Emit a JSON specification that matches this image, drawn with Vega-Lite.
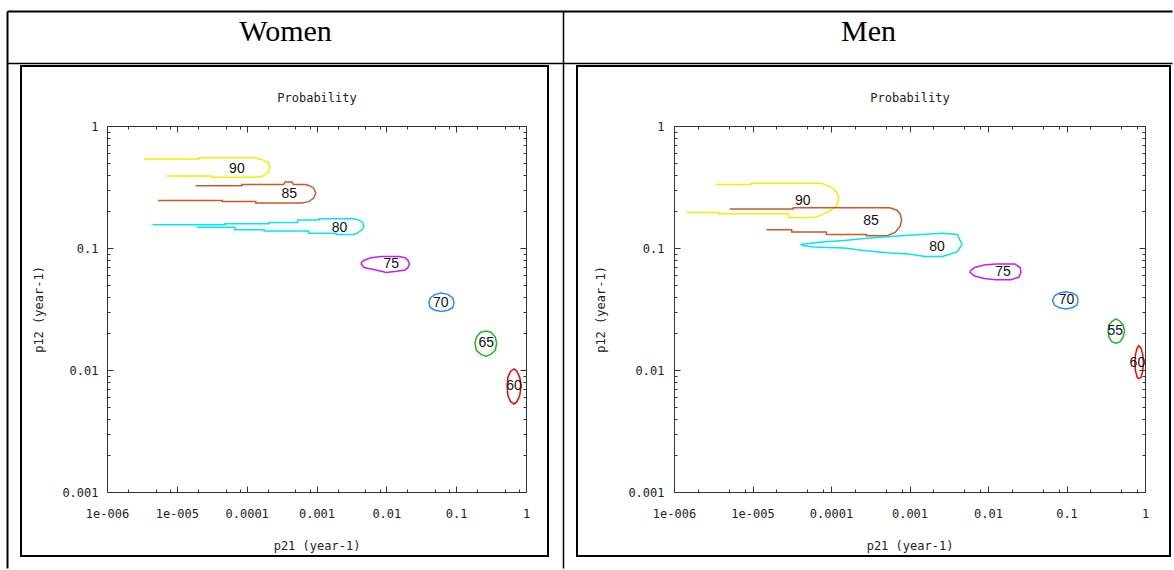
{
  "$schema": "https://vega.github.io/schema/vega-lite/v6.json",
  "background": "white",
  "width": 1166,
  "height": 558,
  "padding": {"left": 7, "top": 11, "right": 0, "bottom": 0},
  "config": {
    "view": {"stroke": null},
    "axis": {"domainColor": "#333333", "domainWidth": 1, "tickColor": "#333333", "tickWidth": 1, "grid": false, "labelFont": "DejaVu Sans Mono", "labelFontSize": 12, "labelColor": "#222222", "titleFont": "DejaVu Sans Mono", "titleFontSize": 12, "titleFontWeight": "normal", "titleColor": "#222222", "labelFlush": false, "labelOverlap": false, "labelBound": false}
  },
  "datasets": {
    "women": [
      {"age":"90","i":1,"p21":3.39e-6,"p12":0.537},
      {"age":"90","i":2,"p21":2.09e-5,"p12":0.537},
      {"age":"90","i":3,"p21":2.09e-5,"p12":0.55},
      {"age":"90","i":4,"p21":1.35e-4,"p12":0.55},
      {"age":"90","i":5,"p21":1.7e-4,"p12":0.525},
      {"age":"90","i":6,"p21":2.04e-4,"p12":0.501},
      {"age":"90","i":7,"p21":2.14e-4,"p12":0.457},
      {"age":"90","i":8,"p21":2.04e-4,"p12":0.417},
      {"age":"90","i":9,"p21":1.7e-4,"p12":0.389},
      {"age":"90","i":10,"p21":1.35e-4,"p12":0.38},
      {"age":"90","i":11,"p21":3.16e-5,"p12":0.38},
      {"age":"90","i":12,"p21":3.16e-5,"p12":0.389},
      {"age":"90","i":13,"p21":7.08e-6,"p12":0.389},
      {"age":"85","i":1,"p21":1.86e-5,"p12":0.324},
      {"age":"85","i":2,"p21":8.51e-5,"p12":0.324},
      {"age":"85","i":3,"p21":8.51e-5,"p12":0.331},
      {"age":"85","i":4,"p21":3.39e-4,"p12":0.331},
      {"age":"85","i":5,"p21":3.55e-4,"p12":0.347},
      {"age":"85","i":6,"p21":4.47e-4,"p12":0.347},
      {"age":"85","i":7,"p21":4.68e-4,"p12":0.331},
      {"age":"85","i":8,"p21":6.92e-4,"p12":0.331},
      {"age":"85","i":9,"p21":7.94e-4,"p12":0.324},
      {"age":"85","i":10,"p21":9.12e-4,"p12":0.309},
      {"age":"85","i":11,"p21":9.77e-4,"p12":0.282},
      {"age":"85","i":12,"p21":9.12e-4,"p12":0.257},
      {"age":"85","i":13,"p21":7.76e-4,"p12":0.24},
      {"age":"85","i":14,"p21":6.17e-4,"p12":0.234},
      {"age":"85","i":15,"p21":1.35e-4,"p12":0.234},
      {"age":"85","i":16,"p21":1.35e-4,"p12":0.24},
      {"age":"85","i":17,"p21":4.47e-5,"p12":0.24},
      {"age":"85","i":18,"p21":4.47e-5,"p12":0.245},
      {"age":"85","i":19,"p21":5.37e-6,"p12":0.245},
      {"age":"80","i":1,"p21":4.47e-6,"p12":0.155},
      {"age":"80","i":2,"p21":4.9e-5,"p12":0.155},
      {"age":"80","i":3,"p21":4.9e-5,"p12":0.158},
      {"age":"80","i":4,"p21":2.09e-4,"p12":0.158},
      {"age":"80","i":5,"p21":2.09e-4,"p12":0.162},
      {"age":"80","i":6,"p21":5.37e-4,"p12":0.162},
      {"age":"80","i":7,"p21":5.37e-4,"p12":0.17},
      {"age":"80","i":8,"p21":1.1e-3,"p12":0.17},
      {"age":"80","i":9,"p21":1.1e-3,"p12":0.174},
      {"age":"80","i":10,"p21":3.39e-3,"p12":0.174},
      {"age":"80","i":11,"p21":3.98e-3,"p12":0.17},
      {"age":"80","i":12,"p21":4.57e-3,"p12":0.162},
      {"age":"80","i":13,"p21":4.79e-3,"p12":0.151},
      {"age":"80","i":14,"p21":4.47e-3,"p12":0.141},
      {"age":"80","i":15,"p21":3.8e-3,"p12":0.132},
      {"age":"80","i":16,"p21":3.39e-3,"p12":0.129},
      {"age":"80","i":17,"p21":1.91e-3,"p12":0.129},
      {"age":"80","i":18,"p21":1.91e-3,"p12":0.132},
      {"age":"80","i":19,"p21":7.76e-4,"p12":0.132},
      {"age":"80","i":20,"p21":7.76e-4,"p12":0.138},
      {"age":"80","i":21,"p21":1.78e-4,"p12":0.138},
      {"age":"80","i":22,"p21":1.78e-4,"p12":0.141},
      {"age":"80","i":23,"p21":6.76e-5,"p12":0.141},
      {"age":"80","i":24,"p21":6.76e-5,"p12":0.148},
      {"age":"80","i":25,"p21":1.91e-5,"p12":0.148},
      {"age":"75","i":1,"p21":4.37e-3,"p12":0.0759},
      {"age":"75","i":2,"p21":4.79e-3,"p12":0.0794},
      {"age":"75","i":3,"p21":6.03e-3,"p12":0.0832},
      {"age":"75","i":4,"p21":8.51e-3,"p12":0.0851},
      {"age":"75","i":5,"p21":1.51e-2,"p12":0.0851},
      {"age":"75","i":6,"p21":1.86e-2,"p12":0.0832},
      {"age":"75","i":7,"p21":2.04e-2,"p12":0.0794},
      {"age":"75","i":8,"p21":2.14e-2,"p12":0.0741},
      {"age":"75","i":9,"p21":2.04e-2,"p12":0.0692},
      {"age":"75","i":10,"p21":1.86e-2,"p12":0.0661},
      {"age":"75","i":11,"p21":1.41e-2,"p12":0.0646},
      {"age":"75","i":12,"p21":1.0e-2,"p12":0.0631},
      {"age":"75","i":13,"p21":7.08e-3,"p12":0.0661},
      {"age":"75","i":14,"p21":4.79e-3,"p12":0.0692},
      {"age":"75","i":15,"p21":4.37e-3,"p12":0.0741},
      {"age":"75","i":16,"p21":4.37e-3,"p12":0.0759},
      {"age":"70","i":1,"p21":0.0933,"p12":0.0355},
      {"age":"70","i":2,"p21":0.0891,"p12":0.0389},
      {"age":"70","i":3,"p21":0.0759,"p12":0.0417},
      {"age":"70","i":4,"p21":0.0617,"p12":0.0427},
      {"age":"70","i":5,"p21":0.0501,"p12":0.0417},
      {"age":"70","i":6,"p21":0.0427,"p12":0.0389},
      {"age":"70","i":7,"p21":0.0407,"p12":0.0355},
      {"age":"70","i":8,"p21":0.0427,"p12":0.0324},
      {"age":"70","i":9,"p21":0.0501,"p12":0.0309},
      {"age":"70","i":10,"p21":0.0617,"p12":0.0302},
      {"age":"70","i":11,"p21":0.0759,"p12":0.0309},
      {"age":"70","i":12,"p21":0.0891,"p12":0.0324},
      {"age":"70","i":13,"p21":0.0933,"p12":0.0355},
      {"age":"65","i":1,"p21":0.38,"p12":0.0166},
      {"age":"65","i":2,"p21":0.363,"p12":0.0186},
      {"age":"65","i":3,"p21":0.316,"p12":0.0204},
      {"age":"65","i":4,"p21":0.269,"p12":0.0209},
      {"age":"65","i":5,"p21":0.224,"p12":0.0204},
      {"age":"65","i":6,"p21":0.195,"p12":0.0186},
      {"age":"65","i":7,"p21":0.186,"p12":0.0166},
      {"age":"65","i":8,"p21":0.195,"p12":0.0145},
      {"age":"65","i":9,"p21":0.224,"p12":0.0135},
      {"age":"65","i":10,"p21":0.269,"p12":0.0129},
      {"age":"65","i":11,"p21":0.316,"p12":0.0135},
      {"age":"65","i":12,"p21":0.363,"p12":0.0145},
      {"age":"65","i":13,"p21":0.38,"p12":0.0166},
      {"age":"60","i":1,"p21":0.851,"p12":0.00741},
      {"age":"60","i":2,"p21":0.813,"p12":0.00871},
      {"age":"60","i":3,"p21":0.741,"p12":0.00977},
      {"age":"60","i":4,"p21":0.676,"p12":0.0102},
      {"age":"60","i":5,"p21":0.603,"p12":0.00977},
      {"age":"60","i":6,"p21":0.55,"p12":0.00871},
      {"age":"60","i":7,"p21":0.537,"p12":0.00741},
      {"age":"60","i":8,"p21":0.55,"p12":0.00617},
      {"age":"60","i":9,"p21":0.603,"p12":0.0055},
      {"age":"60","i":10,"p21":0.676,"p12":0.00525},
      {"age":"60","i":11,"p21":0.741,"p12":0.0055},
      {"age":"60","i":12,"p21":0.813,"p12":0.00617},
      {"age":"60","i":13,"p21":0.851,"p12":0.00741}
    ],
    "womenLabels": [
      {"label":"90","p21":7.24e-5,"p12":0.447},
      {"label":"85","p21":4.07e-4,"p12":0.275},
      {"label":"80","p21":2.14e-3,"p12":0.145},
      {"label":"75","p21":1.175e-2,"p12":0.0741},
      {"label":"70","p21":0.06,"p12":0.0355},
      {"label":"65","p21":0.269,"p12":0.0166},
      {"label":"60","p21":0.672,"p12":0.00741}
    ],
    "men": [
      {"age":"90","i":1,"p21":3.47e-6,"p12":0.331},
      {"age":"90","i":2,"p21":9.55e-6,"p12":0.331},
      {"age":"90","i":3,"p21":9.55e-6,"p12":0.339},
      {"age":"90","i":4,"p21":7.59e-5,"p12":0.339},
      {"age":"90","i":5,"p21":1.0e-4,"p12":0.316},
      {"age":"90","i":6,"p21":1.18e-4,"p12":0.288},
      {"age":"90","i":7,"p21":1.26e-4,"p12":0.257},
      {"age":"90","i":8,"p21":1.18e-4,"p12":0.224},
      {"age":"90","i":9,"p21":1.0e-4,"p12":0.204},
      {"age":"90","i":10,"p21":7.59e-5,"p12":0.186},
      {"age":"90","i":11,"p21":6.0e-5,"p12":0.178},
      {"age":"90","i":12,"p21":2.88e-5,"p12":0.178},
      {"age":"90","i":13,"p21":2.88e-5,"p12":0.191},
      {"age":"90","i":14,"p21":3.72e-6,"p12":0.191},
      {"age":"90","i":15,"p21":3.72e-6,"p12":0.195},
      {"age":"90","i":16,"p21":1.45e-6,"p12":0.195},
      {"age":"85","i":1,"p21":5.13e-6,"p12":0.209},
      {"age":"85","i":2,"p21":3.31e-5,"p12":0.209},
      {"age":"85","i":3,"p21":3.31e-5,"p12":0.214},
      {"age":"85","i":4,"p21":5.62e-4,"p12":0.214},
      {"age":"85","i":5,"p21":6.92e-4,"p12":0.204},
      {"age":"85","i":6,"p21":7.59e-4,"p12":0.191},
      {"age":"85","i":7,"p21":7.94e-4,"p12":0.17},
      {"age":"85","i":8,"p21":7.59e-4,"p12":0.151},
      {"age":"85","i":9,"p21":6.61e-4,"p12":0.135},
      {"age":"85","i":10,"p21":5.25e-4,"p12":0.126},
      {"age":"85","i":11,"p21":2.82e-4,"p12":0.126},
      {"age":"85","i":12,"p21":2.82e-4,"p12":0.129},
      {"age":"85","i":13,"p21":8.71e-5,"p12":0.129},
      {"age":"85","i":14,"p21":8.71e-5,"p12":0.135},
      {"age":"85","i":15,"p21":3.16e-5,"p12":0.135},
      {"age":"85","i":16,"p21":3.16e-5,"p12":0.141},
      {"age":"85","i":17,"p21":1.51e-5,"p12":0.141},
      {"age":"80","i":1,"p21":4.07e-5,"p12":0.107},
      {"age":"80","i":2,"p21":7.59e-5,"p12":0.112},
      {"age":"80","i":3,"p21":1.48e-4,"p12":0.115},
      {"age":"80","i":4,"p21":2.88e-4,"p12":0.12},
      {"age":"80","i":5,"p21":7.76e-4,"p12":0.126},
      {"age":"80","i":6,"p21":2.63e-3,"p12":0.132},
      {"age":"80","i":7,"p21":4.07e-3,"p12":0.129},
      {"age":"80","i":8,"p21":4.68e-3,"p12":0.107},
      {"age":"80","i":9,"p21":4.07e-3,"p12":0.0933},
      {"age":"80","i":10,"p21":2.63e-3,"p12":0.0851},
      {"age":"80","i":11,"p21":1.59e-3,"p12":0.0851},
      {"age":"80","i":12,"p21":9.77e-4,"p12":0.0891},
      {"age":"80","i":13,"p21":5.62e-4,"p12":0.0912},
      {"age":"80","i":14,"p21":2.57e-4,"p12":0.0955},
      {"age":"80","i":15,"p21":1.48e-4,"p12":0.1},
      {"age":"80","i":16,"p21":6.03e-5,"p12":0.102},
      {"age":"80","i":17,"p21":4.37e-5,"p12":0.105},
      {"age":"80","i":18,"p21":4.07e-5,"p12":0.107},
      {"age":"75","i":1,"p21":5.89e-3,"p12":0.0646},
      {"age":"75","i":2,"p21":6.76e-3,"p12":0.0692},
      {"age":"75","i":3,"p21":8.91e-3,"p12":0.0724},
      {"age":"75","i":4,"p21":1.26e-2,"p12":0.0741},
      {"age":"75","i":5,"p21":2.19e-2,"p12":0.0741},
      {"age":"75","i":6,"p21":2.57e-2,"p12":0.0692},
      {"age":"75","i":7,"p21":2.63e-2,"p12":0.0631},
      {"age":"75","i":8,"p21":2.46e-2,"p12":0.0575},
      {"age":"75","i":9,"p21":1.95e-2,"p12":0.055},
      {"age":"75","i":10,"p21":1.26e-2,"p12":0.055},
      {"age":"75","i":11,"p21":8.91e-3,"p12":0.0562},
      {"age":"75","i":12,"p21":6.76e-3,"p12":0.0589},
      {"age":"75","i":13,"p21":5.89e-3,"p12":0.0631},
      {"age":"75","i":14,"p21":5.89e-3,"p12":0.0646},
      {"age":"70","i":1,"p21":0.141,"p12":0.0372},
      {"age":"70","i":2,"p21":0.135,"p12":0.0407},
      {"age":"70","i":3,"p21":0.1175,"p12":0.0427},
      {"age":"70","i":4,"p21":0.0977,"p12":0.0437},
      {"age":"70","i":5,"p21":0.0813,"p12":0.0427},
      {"age":"70","i":6,"p21":0.0708,"p12":0.0407},
      {"age":"70","i":7,"p21":0.0661,"p12":0.0372},
      {"age":"70","i":8,"p21":0.0708,"p12":0.0339},
      {"age":"70","i":9,"p21":0.0813,"p12":0.0324},
      {"age":"70","i":10,"p21":0.0977,"p12":0.0316},
      {"age":"70","i":11,"p21":0.1175,"p12":0.0324},
      {"age":"70","i":12,"p21":0.135,"p12":0.0339},
      {"age":"70","i":13,"p21":0.141,"p12":0.0372},
      {"age":"55","i":1,"p21":0.55,"p12":0.0209},
      {"age":"55","i":2,"p21":0.525,"p12":0.0234},
      {"age":"55","i":3,"p21":0.479,"p12":0.0251},
      {"age":"55","i":4,"p21":0.427,"p12":0.0263},
      {"age":"55","i":5,"p21":0.38,"p12":0.0251},
      {"age":"55","i":6,"p21":0.347,"p12":0.0234},
      {"age":"55","i":7,"p21":0.339,"p12":0.0209},
      {"age":"55","i":8,"p21":0.347,"p12":0.0186},
      {"age":"55","i":9,"p21":0.38,"p12":0.017},
      {"age":"55","i":10,"p21":0.427,"p12":0.0166},
      {"age":"55","i":11,"p21":0.479,"p12":0.017},
      {"age":"55","i":12,"p21":0.525,"p12":0.0186},
      {"age":"55","i":13,"p21":0.55,"p12":0.0209},
      {"age":"60","i":1,"p21":0.955,"p12":0.0115},
      {"age":"60","i":2,"p21":0.933,"p12":0.0135},
      {"age":"60","i":3,"p21":0.891,"p12":0.0151},
      {"age":"60","i":4,"p21":0.832,"p12":0.0158},
      {"age":"60","i":5,"p21":0.794,"p12":0.0151},
      {"age":"60","i":6,"p21":0.759,"p12":0.0135},
      {"age":"60","i":7,"p21":0.741,"p12":0.0115},
      {"age":"60","i":8,"p21":0.759,"p12":0.00977},
      {"age":"60","i":9,"p21":0.794,"p12":0.00871},
      {"age":"60","i":10,"p21":0.832,"p12":0.00851},
      {"age":"60","i":11,"p21":0.891,"p12":0.00871},
      {"age":"60","i":12,"p21":0.933,"p12":0.00977},
      {"age":"60","i":13,"p21":0.955,"p12":0.0115}
    ],
    "menLabels": [
      {"label":"90","p21":4.37e-5,"p12":0.245},
      {"label":"85","p21":3.24e-4,"p12":0.166},
      {"label":"80","p21":2.24e-3,"p12":0.102},
      {"label":"75","p21":1.55e-2,"p12":0.0631},
      {"label":"70","p21":0.1,"p12":0.0372},
      {"label":"55","p21":0.417,"p12":0.0209},
      {"label":"60","p21":0.8,"p12":0.0115}
    ]
  },
  "layer": [
    {
      "data": {"values": []},
      "mark": "point",
      "encoding": {
        "x": {"field": "a", "type": "quantitative", "scale": {"domain": [0, 1], "range": [0, 1165], "nice": false, "zero": false}, "axis": {"orient": "top", "offset": 0, "ticks": false, "labels": false, "title": null, "domainColor": "black", "domainWidth": 2}},
        "y": {"field": "b", "type": "quantitative", "scale": {"domain": [0, 1], "range": [557, 0], "nice": false, "zero": false}, "axis": {"orient": "left", "offset": 0, "ticks": false, "labels": false, "title": null, "domainColor": "black", "domainWidth": 2}}
      }
    },
    {
      "data": {"values": []},
      "mark": "point",
      "encoding": {
        "x": {"field": "a", "type": "quantitative", "scale": {"domain": [0, 1], "range": [0, 1165], "nice": false, "zero": false}, "axis": {"orient": "bottom", "offset": -506, "ticks": false, "labels": false, "title": null, "domainColor": "black", "domainWidth": 1.5}},
        "y": {"field": "b", "type": "quantitative", "scale": {"domain": [0, 1], "range": [557, 0], "nice": false, "zero": false}, "axis": {"orient": "left", "offset": -556, "ticks": false, "labels": false, "title": null, "domainColor": "black", "domainWidth": 1.5}}
      }
    },
    {
      "data": {"values": []},
      "mark": "point",
      "encoding": {
        "x": {"field": "sex", "type": "nominal", "scale": {"type": "point", "domain": ["Women", "Men"], "range": [278, 861], "padding": 0}, "axis": {"orient": "top", "offset": -20, "ticks": false, "domain": false, "labelFont": "Liberation Serif", "labelFontSize": 30, "labelColor": "black", "labelPadding": 0, "labelBaseline": "middle", "labelAngle": 0, "title": null}}
      }
    },
    {
      "data": {"values": [{}]},
      "mark": {"type": "rect", "fillOpacity": 0, "stroke": "black", "strokeWidth": 2},
      "encoding": {
        "x": {"datum": 0, "type": "quantitative", "scale": {"domain": [0, 1], "range": [14, 541], "nice": false, "zero": false}, "axis": null},
        "x2": {"datum": 1},
        "y": {"datum": 0, "type": "quantitative", "scale": {"domain": [0, 1], "range": [545, 55], "nice": false, "zero": false}, "axis": null},
        "y2": {"datum": 1}
      }
    },
    {
      "data": {"values": [{}]},
      "mark": {"type": "rect", "fillOpacity": 0, "stroke": "black", "strokeWidth": 2},
      "encoding": {
        "x": {"datum": 0, "type": "quantitative", "scale": {"domain": [0, 1], "range": [570, 1163], "nice": false, "zero": false}, "axis": null},
        "x2": {"datum": 1},
        "y": {"datum": 0, "type": "quantitative", "scale": {"domain": [0, 1], "range": [545, 55], "nice": false, "zero": false}, "axis": null},
        "y2": {"datum": 1}
      }
    },
    {
      "data": {"name": "women"},
      "mark": {"type": "line", "strokeWidth": 1.5},
      "encoding": {
        "x": {"field": "p21", "type": "quantitative", "scale": {"type": "log", "domain": [0.000001, 1], "range": [100, 519], "nice": false},
          "axis": {"orient": "bottom", "offset": -77, "values": [0.000001, 0.00001, 0.0001, 0.001, 0.01, 0.1, 1], "labelExpr": "datum.value < 0.000005 ? '1e-006' : datum.value < 0.00005 ? '1e-005' : format(datum.value, '~g')", "tickSize": -6, "labelPadding": 22, "title": "p21 (year-1)", "titleY": 53, "titleBaseline": "middle"}},
        "y": {"field": "p12", "type": "quantitative", "scale": {"type": "log", "domain": [0.001, 1], "range": [481, 115], "nice": false},
          "axis": {"orient": "left", "offset": -100, "values": [0.001, 0.01, 0.1, 1], "format": "~g", "tickSize": -6, "labelPadding": 15, "title": "p12 (year-1)", "titleX": -69, "titleAngle": 270, "titleBaseline": "middle"}},
        "color": {"field": "age", "type": "nominal", "scale": {"domain": ["60", "65", "55", "70", "75", "80", "85", "90"], "range": ["#ff0000", "#20b820", "#20b820", "#2a8cff", "#c81ef0", "#00e8f0", "#cc5a28", "#f0f000"]}, "legend": null},
        "order": {"field": "i", "type": "quantitative"}
      }
    },
    {
      "data": {"name": "womenLabels"},
      "mark": {"type": "text", "font": "Liberation Sans", "fontSize": 14, "color": "#111111"},
      "encoding": {
        "x": {"field": "p21", "type": "quantitative", "scale": {"type": "log", "domain": [0.000001, 1], "range": [100, 519], "nice": false},
          "axis": {"orient": "top", "offset": -115, "values": [0.000001, 0.00001, 0.0001, 0.001, 0.01, 0.1, 1], "labels": false, "tickSize": -6, "title": "Probability", "titleY": -29, "titleBaseline": "middle"}},
        "y": {"field": "p12", "type": "quantitative", "scale": {"type": "log", "domain": [0.001, 1], "range": [481, 115], "nice": false},
          "axis": {"orient": "right", "offset": -647, "values": [0.001, 0.01, 0.1, 1], "labels": false, "tickSize": -6, "title": null}},
        "text": {"field": "label"}
      }
    },
    {
      "data": {"values": []},
      "mark": "point",
      "encoding": {
        "x": {"field": "p21", "type": "quantitative", "scale": {"type": "log", "domain": [0.000001, 1], "range": [100, 519], "nice": false},
          "axis": {"orient": "bottom", "offset": -77, "values": [0.000002, 0.000005, 0.000008, 0.00002, 0.00005, 0.00008, 0.0002, 0.0005, 0.0008, 0.002, 0.005, 0.008, 0.02, 0.05, 0.08, 0.2, 0.5, 0.8], "labels": false, "domain": false, "tickSize": -3, "title": null}},
        "y": {"field": "p12", "type": "quantitative", "scale": {"type": "log", "domain": [0.001, 1], "range": [481, 115], "nice": false},
          "axis": {"orient": "left", "offset": -100, "values": [0.002, 0.003, 0.004, 0.005, 0.006, 0.007, 0.008, 0.009, 0.02, 0.03, 0.04, 0.05, 0.06, 0.07, 0.08, 0.09, 0.2, 0.3, 0.4, 0.5, 0.6, 0.7, 0.8, 0.9], "labels": false, "domain": false, "tickSize": -3, "title": null}}
      }
    },
    {
      "data": {"values": []},
      "mark": "point",
      "encoding": {
        "x": {"field": "p21", "type": "quantitative", "scale": {"type": "log", "domain": [0.000001, 1], "range": [100, 519], "nice": false},
          "axis": {"orient": "top", "offset": -115, "values": [0.000002, 0.000005, 0.000008, 0.00002, 0.00005, 0.00008, 0.0002, 0.0005, 0.0008, 0.002, 0.005, 0.008, 0.02, 0.05, 0.08, 0.2, 0.5, 0.8], "labels": false, "domain": false, "tickSize": -3, "title": null}},
        "y": {"field": "p12", "type": "quantitative", "scale": {"type": "log", "domain": [0.001, 1], "range": [481, 115], "nice": false},
          "axis": {"orient": "right", "offset": -647, "values": [0.002, 0.003, 0.004, 0.005, 0.006, 0.007, 0.008, 0.009, 0.02, 0.03, 0.04, 0.05, 0.06, 0.07, 0.08, 0.09, 0.2, 0.3, 0.4, 0.5, 0.6, 0.7, 0.8, 0.9], "labels": false, "domain": false, "tickSize": -3, "title": null}}
      }
    },
    {
      "data": {"name": "men"},
      "mark": {"type": "line", "strokeWidth": 1.5},
      "encoding": {
        "x": {"field": "p21", "type": "quantitative", "scale": {"type": "log", "domain": [0.000001, 1], "range": [667, 1138], "nice": false},
          "axis": {"orient": "bottom", "offset": -77, "values": [0.000001, 0.00001, 0.0001, 0.001, 0.01, 0.1, 1], "labelExpr": "datum.value < 0.000005 ? '1e-006' : datum.value < 0.00005 ? '1e-005' : format(datum.value, '~g')", "tickSize": -6, "labelPadding": 22, "title": "p21 (year-1)", "titleY": 53, "titleBaseline": "middle"}},
        "y": {"field": "p12", "type": "quantitative", "scale": {"type": "log", "domain": [0.001, 1], "range": [481, 115], "nice": false},
          "axis": {"orient": "left", "offset": -667, "values": [0.001, 0.01, 0.1, 1], "format": "~g", "tickSize": -6, "labelPadding": 16, "title": "p12 (year-1)", "titleX": -74, "titleAngle": 270, "titleBaseline": "middle"}},
        "color": {"field": "age", "type": "nominal", "scale": {"domain": ["60", "65", "55", "70", "75", "80", "85", "90"], "range": ["#ff0000", "#20b820", "#20b820", "#2a8cff", "#c81ef0", "#00e8f0", "#cc5a28", "#f0f000"]}, "legend": null},
        "order": {"field": "i", "type": "quantitative"}
      }
    },
    {
      "data": {"name": "menLabels"},
      "mark": {"type": "text", "font": "Liberation Sans", "fontSize": 14, "color": "#111111"},
      "encoding": {
        "x": {"field": "p21", "type": "quantitative", "scale": {"type": "log", "domain": [0.000001, 1], "range": [667, 1138], "nice": false},
          "axis": {"orient": "top", "offset": -115, "values": [0.000001, 0.00001, 0.0001, 0.001, 0.01, 0.1, 1], "labels": false, "tickSize": -6, "title": "Probability", "titleY": -29, "titleBaseline": "middle"}},
        "y": {"field": "p12", "type": "quantitative", "scale": {"type": "log", "domain": [0.001, 1], "range": [481, 115], "nice": false},
          "axis": {"orient": "right", "offset": -28, "values": [0.001, 0.01, 0.1, 1], "labels": false, "tickSize": -6, "title": null}},
        "text": {"field": "label"}
      }
    },
    {
      "data": {"values": []},
      "mark": "point",
      "encoding": {
        "x": {"field": "p21", "type": "quantitative", "scale": {"type": "log", "domain": [0.000001, 1], "range": [667, 1138], "nice": false},
          "axis": {"orient": "bottom", "offset": -77, "values": [0.000002, 0.000005, 0.000008, 0.00002, 0.00005, 0.00008, 0.0002, 0.0005, 0.0008, 0.002, 0.005, 0.008, 0.02, 0.05, 0.08, 0.2, 0.5, 0.8], "labels": false, "domain": false, "tickSize": -3, "title": null}},
        "y": {"field": "p12", "type": "quantitative", "scale": {"type": "log", "domain": [0.001, 1], "range": [481, 115], "nice": false},
          "axis": {"orient": "left", "offset": -667, "values": [0.002, 0.003, 0.004, 0.005, 0.006, 0.007, 0.008, 0.009, 0.02, 0.03, 0.04, 0.05, 0.06, 0.07, 0.08, 0.09, 0.2, 0.3, 0.4, 0.5, 0.6, 0.7, 0.8, 0.9], "labels": false, "domain": false, "tickSize": -3, "title": null}}
      }
    },
    {
      "data": {"values": []},
      "mark": "point",
      "encoding": {
        "x": {"field": "p21", "type": "quantitative", "scale": {"type": "log", "domain": [0.000001, 1], "range": [667, 1138], "nice": false},
          "axis": {"orient": "top", "offset": -115, "values": [0.000002, 0.000005, 0.000008, 0.00002, 0.00005, 0.00008, 0.0002, 0.0005, 0.0008, 0.002, 0.005, 0.008, 0.02, 0.05, 0.08, 0.2, 0.5, 0.8], "labels": false, "domain": false, "tickSize": -3, "title": null}},
        "y": {"field": "p12", "type": "quantitative", "scale": {"type": "log", "domain": [0.001, 1], "range": [481, 115], "nice": false},
          "axis": {"orient": "right", "offset": -28, "values": [0.002, 0.003, 0.004, 0.005, 0.006, 0.007, 0.008, 0.009, 0.02, 0.03, 0.04, 0.05, 0.06, 0.07, 0.08, 0.09, 0.2, 0.3, 0.4, 0.5, 0.6, 0.7, 0.8, 0.9], "labels": false, "domain": false, "tickSize": -3, "title": null}}
      }
    }
  ],
  "resolve": {"scale": {"x": "independent", "y": "independent"}}
}
